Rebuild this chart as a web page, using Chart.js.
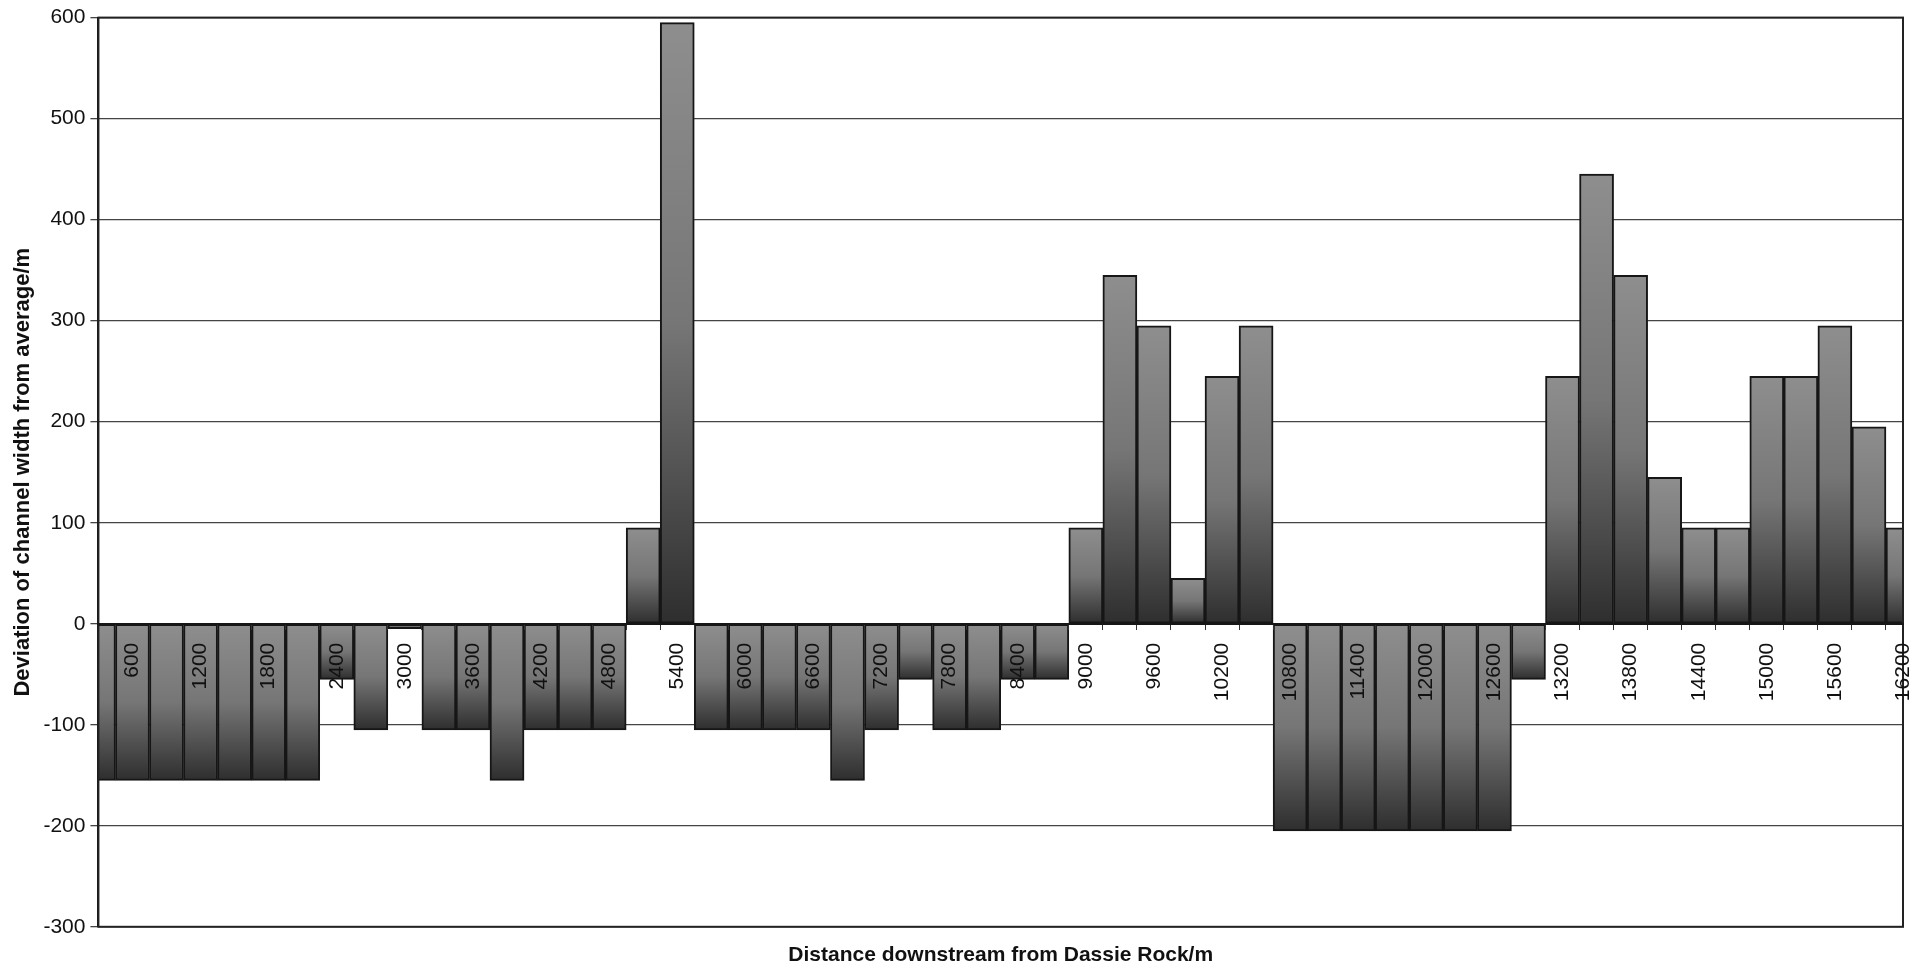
<!DOCTYPE html>
<html>
<head>
<meta charset="utf-8">
<title>Deviation of channel width</title>
<script src="https://cdn.jsdelivr.net/npm/chart.js@4.4.1/dist/chart.umd.min.js"></script>
<style>
  html, body { margin: 0; padding: 0; background: #fff; }
  #wrap { width: 1928px; height: 972px; }
</style>
</head>
<body>
<div id="wrap"><canvas id="chart" width="1928" height="972"></canvas></div>
<script>
// distance downstream (m), one bar every 300 m
const distances = [
    300, 600, 900, 1200, 1500, 1800, 2100, 2400, 2700, 3000,
    3300, 3600, 3900, 4200, 4500, 4800, 5100, 5400, 5700, 6000,
    6300, 6600, 6900, 7200, 7500, 7800, 8100, 8400, 8700, 9000,
    9300, 9600, 9900, 10200, 10500, 10800, 11100, 11400, 11700, 12000,
    12300, 12600, 12900, 13200, 13500, 13800, 14100, 14400, 14700, 15000,
    15300, 15600, 15900, 16200
];

// deviation of channel width from average (m)
const deviations = [
    -155, -155, -155, -155, -155, -155, -155, -55, -105, -5,
    -105, -105, -155, -105, -105, -105, 95, 595, -105, -105,
    -105, -105, -155, -105, -55, -105, -105, -55, -55, 95,
    345, 295, 45, 245, 295, -205, -205, -205, -205, -205,
    -205, -205, -55, 245, 445, 345, 145, 95, 95, 245,
    245, 295, 195, 95
];

const yTicks = [-300, -200, -100, 0, 100, 200, 300, 400, 500, 600];

const FONT = "'Liberation Sans', Arial, Helvetica, sans-serif";

// shaded fill for each bar, lighter at the top, dark at the bottom
function barFill(context) {
    const chart = context.chart;
    const yScale = chart.scales.y;
    if (!chart.chartArea || !yScale) return '#666';
    const v = context.raw;
    const p0 = yScale.getPixelForValue(0);
    const p1 = yScale.getPixelForValue(v);
    const top = Math.min(p0, p1);
    const bottom = Math.max(p0, p1);
    if (bottom - top < 2) return '#444';
    const g = chart.ctx.createLinearGradient(0, top, 0, bottom);
    g.addColorStop(0, '#8e8e8e');
    g.addColorStop(0.5, '#767676');
    g.addColorStop(1, '#2e2e2e');
    return g;
}

// box round the plot area
const frame = {
    id: 'frame',
    afterDatasetsDraw(chart) {
        const { ctx, chartArea: a } = chart;
        ctx.save();
        ctx.strokeStyle = '#222';
        ctx.lineWidth = 2;
        ctx.strokeRect(a.left, a.top, a.right - a.left, a.bottom - a.top);
        ctx.restore();
    }
};

new Chart(document.getElementById('chart'), {
    type: 'bar',
    data: {
        labels: distances,
        datasets: [{
            data: deviations,
            backgroundColor: barFill,
            borderColor: '#161616',
            borderWidth: 2,
            borderSkipped: false,
            barPercentage: 1,
            categoryPercentage: 1
        }]
    },
    options: {
        responsive: false,
        animation: false,
        layout: { autoPadding: false, padding: { top: 16, right: 25, left: 10, bottom: 0 } },
        plugins: {
            legend: { display: false },
            tooltip: { enabled: false }
        },
        scales: {
            x: {
                type: 'category',
                position: { y: 0 },
                offset: false,
                // rotated labels should not push the plot edges in
                afterFit: (scale) => { scale.paddingLeft = 0; scale.paddingRight = 0; },
                grid: { display: true, drawOnChartArea: false, drawTicks: true, tickLength: 5, color: '#333', z: 1 },
                border: { display: true, color: '#161616', width: 2, z: 1 },
                ticks: {
                    z: 1,
                    autoSkip: false,
                    minRotation: 90,
                    maxRotation: 90,
                    padding: 14,
                    color: '#111',
                    font: { family: FONT, size: 21 },
                    callback: (val, i) => (i % 2 === 1 ? String(distances[i]) : '')
                }
            },
            x2: {
                type: 'category',
                position: 'bottom',
                offset: false,
                afterFit: (scale) => { scale.paddingLeft = 0; scale.paddingRight = 0; },
                grid: { display: false },
                border: { display: false },
                ticks: { display: false },
                title: {
                    display: true,
                    text: 'Distance downstream from Dassie Rock/m',
                    color: '#111',
                    font: { family: FONT, size: 21, weight: 'bold' },
                    padding: { top: 8, bottom: 4 }
                }
            },
            y: {
                min: -300,
                max: 600,
                afterBuildTicks: (scale) => { scale.ticks = yTicks.map(v => ({ value: v })); },
                grid: { color: '#444', lineWidth: 1.3, tickLength: 8 },
                border: { display: true, color: '#161616', width: 2 },
                ticks: {
                    padding: 5,
                    color: '#111',
                    font: { family: FONT, size: 21 }
                },
                title: {
                    display: true,
                    text: 'Deviation of channel width from average/m',
                    color: '#111',
                    font: { family: FONT, size: 22, weight: 'bold' },
                    padding: { top: 0, bottom: 2 }
                }
            }
        }
    },
    plugins: [frame]
});
</script>
</body>
</html>
